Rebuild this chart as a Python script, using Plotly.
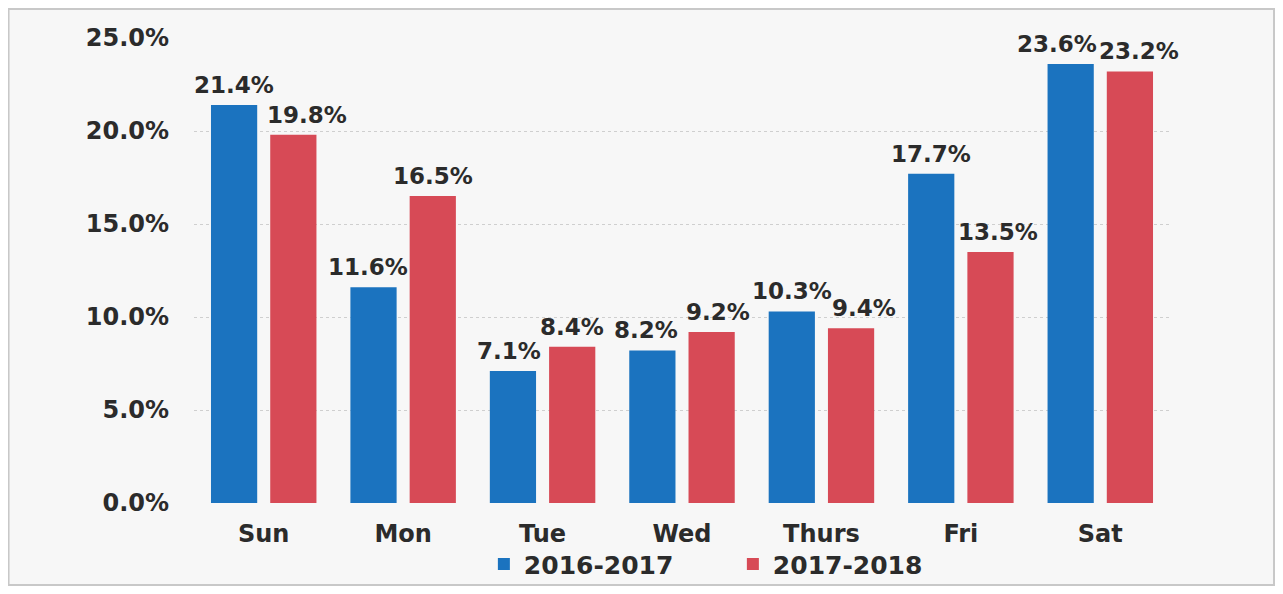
import plotly.graph_objects as go

days = ["Sun", "Mon", "Tue", "Wed", "Thurs", "Fri", "Sat"]
s2016 = [21.4, 11.6, 7.1, 8.2, 10.3, 17.7, 23.6]
s2017 = [19.8, 16.5, 8.4, 9.2, 9.4, 13.5, 23.2]
series_names = ["2016-2017", "2017-2018"]
yticks = [0, 5, 10, 15, 20, 25]

# label nudges (px) to keep neighbouring value labels apart, as in the reference
label_dx_2016 = [0, -6, -4, -6, 0, 0, -14]
label_dx_2017 = [14, 0, 0, 6, 13, 8, 9]

FONT = "DejaVu Sans"
TXT = "#2b2b2b"
BAR_GAP = 0.15
GROUP_GAP = 0.22
# page body adds an 8px margin on every side; figure sized to fit the window exactly
PLOT_L, PLOT_R, PLOT_T, PLOT_B = 186, 105, 30, 83
W, H = 1267, 578

fig = go.Figure()
series = [(s2016, series_names[0], "#1b73bf", -1, label_dx_2016),
          (s2017, series_names[1], "#d74a56", 1, label_dx_2017)]
for vals, name, col, side, dxs in series:
    fig.add_trace(go.Bar(
        x=days, y=vals, name=name,
        marker=dict(color=col, line=dict(width=0)),
    ))

cat_px = (W - PLOT_L - PLOT_R) / len(days)
slot_px = cat_px * (1 - BAR_GAP) / 2
for vals, name, col, side, dxs in series:
    for d, v, dx in zip(days, vals, dxs):
        fig.add_annotation(
            x=d, y=v, xref="x", yref="y", text=f"{v:.1f}%", showarrow=False,
            xanchor="center", yanchor="bottom", xshift=side * slot_px / 2 + dx, yshift=5,
            font=dict(family=FONT, size=23, color=TXT, weight="bold"),
        )

fig.update_layout(
    width=W, height=H,
    paper_bgcolor="white", plot_bgcolor="rgba(0,0,0,0)",
    margin=dict(l=PLOT_L, r=PLOT_R, t=PLOT_T, b=PLOT_B, autoexpand=False),
    barmode="group", bargap=BAR_GAP, bargroupgap=GROUP_GAP,
    font=dict(family=FONT, color=TXT, size=22, weight="bold"),
    showlegend=True,
    legend=dict(orientation="h", x=0.297, xanchor="left", y=-0.082, yanchor="top",
                font=dict(family=FONT, size=25, color=TXT, weight="bold"),
                entrywidth=204, entrywidthmode="pixels",
                bgcolor="rgba(0,0,0,0)"),
)
fig.update_xaxes(range=[-0.5, len(days) - 0.5], showgrid=False, showline=False, ticks="",
                 ticklabelstandoff=14, automargin=False,
                 tickfont=dict(family=FONT, size=24, color=TXT, weight="bold"))
fig.update_yaxes(range=[0, 25], tickvals=yticks, ticktext=[f"{v:.1f}%" for v in yticks],
                 showgrid=True, gridcolor="#cfcfcf", griddash="dot", gridwidth=1,
                 zeroline=False, showline=False, ticks="", ticklabelstandoff=24, automargin=False,
                 tickfont=dict(family=FONT, size=24, color=TXT, weight="bold"))

fig.add_shape(type="rect", xref="paper", yref="paper", x0=-0.1900, x1=1.1066, y0=-0.1763, y1=1.0624,
              line=dict(color="#c8c8c8", width=2), fillcolor="#f7f7f7", layer="below")

fig.write_html("out.html")
